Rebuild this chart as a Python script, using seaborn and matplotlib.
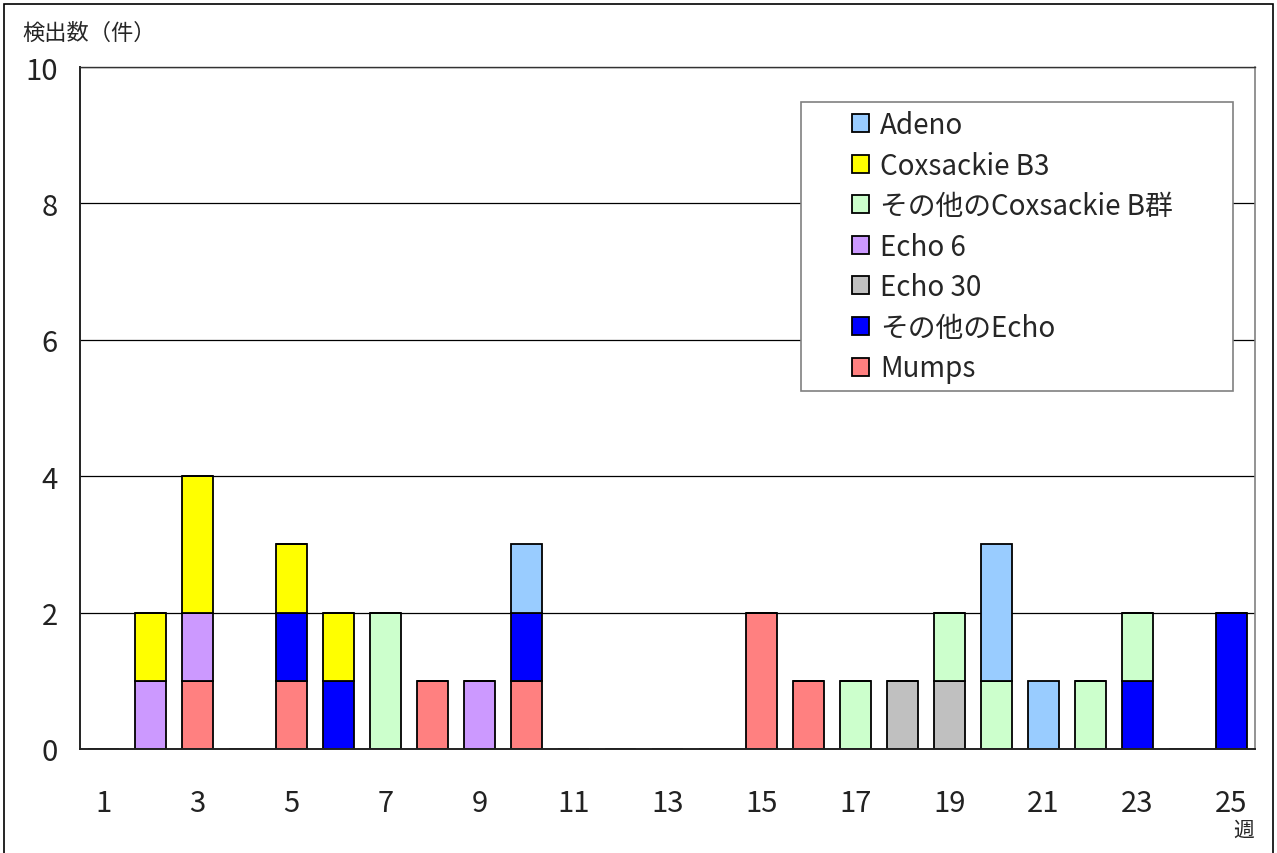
import pandas as pd
import matplotlib
matplotlib.use('Agg')
import matplotlib.pyplot as plt
from matplotlib.patches import Patch, Rectangle
from matplotlib.ticker import MultipleLocator, FixedLocator
import seaborn as sns

# 週ごとのウイルス検出数
weeks = list(range(1, 26))
virus_names = ['Adeno', 'Coxsackie B3', 'その他のCoxsackie B群',
               'Echo 6', 'Echo 30', 'その他のEcho', 'Mumps']
adeno      = [0, 0, 0, 0, 0, 0, 0, 0, 0, 1, 0, 0, 0, 0, 0, 0, 0, 0, 0, 2, 1, 0, 0, 0, 0]
coxb3      = [0, 1, 2, 0, 1, 1, 0, 0, 0, 0, 0, 0, 0, 0, 0, 0, 0, 0, 0, 0, 0, 0, 0, 0, 0]
other_coxb = [0, 0, 0, 0, 0, 0, 2, 0, 0, 0, 0, 0, 0, 0, 0, 0, 1, 0, 1, 1, 0, 1, 1, 0, 0]
echo6      = [0, 1, 1, 0, 0, 0, 0, 0, 1, 0, 0, 0, 0, 0, 0, 0, 0, 0, 0, 0, 0, 0, 0, 0, 0]
echo30     = [0, 0, 0, 0, 0, 0, 0, 0, 0, 0, 0, 0, 0, 0, 0, 0, 0, 1, 1, 0, 0, 0, 0, 0, 0]
other_echo = [0, 0, 0, 0, 1, 1, 0, 0, 0, 1, 0, 0, 0, 0, 0, 0, 0, 0, 0, 0, 0, 0, 1, 0, 2]
mumps      = [0, 0, 1, 0, 1, 0, 0, 1, 0, 1, 0, 0, 0, 0, 2, 1, 0, 0, 0, 0, 0, 0, 0, 0, 0]
colors = ['#99CCFF', '#FFFF00', '#CCFFCC', '#CC99FF', '#C0C0C0', '#0000FF', '#FF8080']
tick_weeks = list(range(1, 26, 2))

series = [adeno, coxb3, other_coxb, echo6, echo30, other_echo, mumps]
rows = []
for name, vals in zip(virus_names, series):
    for w, v in zip(weeks, vals):
        rows.append({'week': w, 'virus': name, 'count': v})
df = pd.DataFrame(rows)
palette = dict(zip(virus_names, colors))

sns.set_style('white')
plt.rcParams['font.family'] = ['Noto Sans CJK JP', 'DejaVu Sans']

fig = plt.figure(figsize=(12.77, 8.54), dpi=100)
ax = fig.add_axes([80 / 1277, 104 / 854, 1175 / 1277, 682 / 854])

# 積み上げ棒（先頭の項目が一番上になる）
sns.histplot(data=df, x='week', hue='virus', weights='count',
             hue_order=virus_names, palette=palette,
             discrete=True, multiple='stack', shrink=0.68,
             edgecolor='black', linewidth=1.3, alpha=1,
             legend=False, ax=ax)

ax.set_xlim(0.5, 25.5)
ax.set_ylim(0, 10)
ax.set_xlabel('')
ax.set_ylabel('')

ax.yaxis.set_major_locator(MultipleLocator(2))
ax.yaxis.grid(True, color='black', linewidth=0.9)
ax.set_axisbelow(True)
ax.tick_params(axis='y', direction='in', length=6, labelsize=21, pad=16, colors='#222222')

ax.xaxis.set_major_locator(FixedLocator(tick_weeks))
ax.xaxis.set_minor_locator(FixedLocator([w + 0.5 for w in weeks[:-1]]))
ax.tick_params(axis='x', which='major', length=0, labelsize=21, pad=28, colors='#222222')
ax.tick_params(axis='x', which='minor', direction='in', length=6, width=1, color='#333333')

for s in ['left', 'bottom']:
    ax.spines[s].set_color('#222222')
    ax.spines[s].set_linewidth(1.4)
ax.spines['top'].set_color('#333333')
ax.spines['top'].set_linewidth(1.0)
ax.spines['right'].set_color('#808080')
ax.spines['right'].set_linewidth(1.2)

# 凡例（枠は別に描く）
fig.patches.append(Rectangle((801 / 1277, (854 - 392) / 854), 432 / 1277, 289 / 854,
                             transform=fig.transFigure, facecolor='white',
                             edgecolor='#808080', linewidth=1.2, zorder=3))
handles = [Patch(facecolor=c, edgecolor='black', linewidth=1.3) for c in colors]
fig.legend(handles, virus_names, loc='upper left',
           bbox_to_anchor=(852 / 1277, (854 - 111) / 854),
           frameon=False, fontsize=20, borderpad=0, borderaxespad=0,
           handlelength=0.62, handleheight=0.62, handletextpad=0.4,
           labelspacing=0.38)

fig.text(22 / 1277, (854 - 33) / 854, '検出数（件）', ha='left', va='center', fontsize=16)
fig.text(1244 / 1277, (854 - 831) / 854, '週', ha='center', va='center', fontsize=15)

# 外枠
fig.patches.append(Rectangle((4 / 1277, -0.01), 1269 / 1277, 849 / 854 + 0.01,
                             transform=fig.transFigure, fill=False,
                             edgecolor='black', linewidth=1.2, zorder=0))

plt.savefig('out.png', dpi=100)
